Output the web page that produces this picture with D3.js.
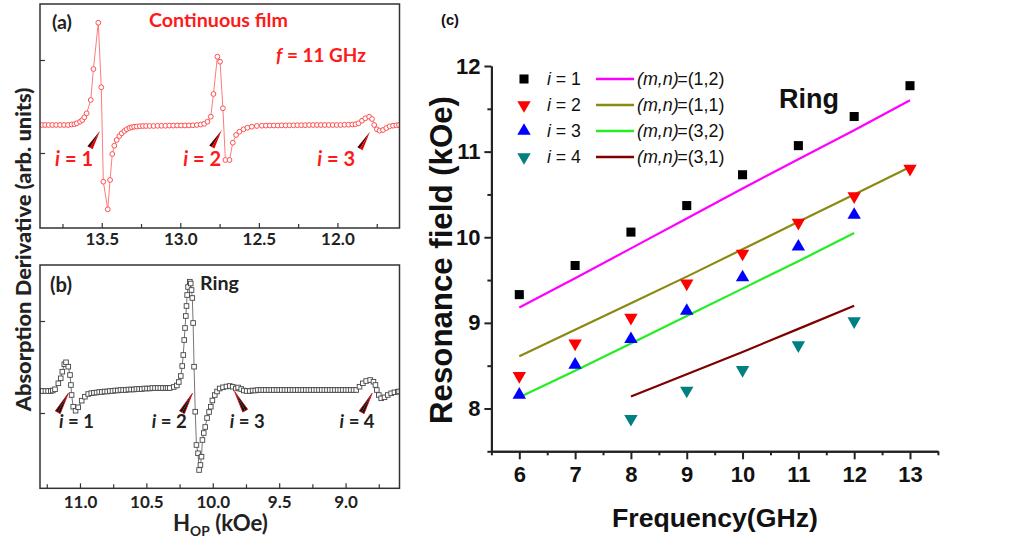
<!DOCTYPE html>
<html><head><meta charset="utf-8">
<script src="https://cdn.jsdelivr.net/npm/d3@7"></script>
<style>body{margin:0;background:#fff}svg{display:block}</style>
</head><body>
<svg id="chart" width="1024" height="541"></svg>
<script>
// ===== Panel (a): continuous film, f = 11 GHz  [field kOe, signal arb.]
const filmSpectrum = [
[13.880,0],[13.860,0],[13.838,0],[13.815,0],[13.790,0],[13.765,0],[13.740,0],[13.715,0],[13.692,0.05],[13.674,0.08],
[13.659,0.17],[13.638,0.33],[13.624,0.5],[13.611,0.77],[13.596,1.17],[13.570,2.5],[13.553,5.6],[13.522,10.23],[13.503,3.77],[13.490,-5.67],[13.462,-8.43],[13.447,-5.5],[13.433,-2.9],[13.420,-2.07],[13.405,-1.5],[13.388,-1.1],[13.373,-0.83],[13.356,-0.6],[13.341,-0.43],[13.324,-0.3],[13.309,-0.23],[13.294,-0.17],[13.277,-0.15],[13.258,-0.12],[13.238,-0.1],[13.218,-0.1],
[13.195,-0.1],[13.170,-0.1],[13.145,-0.08],[13.120,-0.08],[13.095,-0.08],[13.070,-0.06],[13.045,-0.06],[13.020,-0.05],[12.995,-0.05],[12.970,-0.05],[12.945,-0.04],[12.920,-0.03],[12.895,0],[12.870,0.05],[12.848,0.12],
[12.827,0.33],[12.806,0.83],[12.789,3.1],[12.764,6.83],[12.747,6.33],[12.729,1.67],[12.713,-3.5],[12.687,-3.5],[12.666,-1.77],[12.645,-1.0],[12.624,-0.67],[12.598,-0.43],[12.573,-0.27],[12.545,-0.17],[12.513,-0.1],[12.481,-0.07],
[12.455,-0.06],[12.430,-0.05],[12.405,-0.05],[12.380,-0.05],[12.355,-0.04],[12.330,-0.04],[12.305,-0.03],[12.280,-0.03],[12.255,-0.02],[12.230,-0.02],[12.205,-0.02],[12.180,0],[12.155,0],[12.130,0],[12.105,0],[12.080,0],[12.055,0],[12.030,0],[12.005,0],[11.980,0],[11.955,0.02],[11.930,0.03],[11.905,0.05],[11.885,0.08],
[11.866,0.17],[11.844,0.43],[11.823,0.67],[11.798,0.83],[11.780,0.6],[11.766,0],[11.749,-0.43],[11.732,-0.57],[11.710,-0.5],[11.689,-0.3],[11.668,-0.13],[11.646,-0.07],[11.625,-0.03],[11.608,0]
];
const filmTicks = [13.5, 13.0, 12.5, 12.0];
const filmMinorTicks = [13.75, 13.25, 12.75, 12.25, 11.75];
const filmModes = [ // i, arrow tip [field, signal], label start field
  {i:'1', tipH:13.511, tipV:-0.57, textH:13.797},
  {i:'2', tipH:12.736, tipV:-0.50, textH:12.982},
  {i:'3', tipH:11.793, tipV:-0.67, textH:12.129}
];

// ===== Panel (b): ring  [field kOe, signal arb.]
const ringSpectrum = [
[11.300,0],[11.280,0],[11.260,0],[11.240,0],[11.220,0],[11.205,0.05],
[11.188,0.17],[11.163,0.77],[11.145,1.27],[11.133,1.93],[11.118,2.67],[11.105,2.87],[11.088,2.43],[11.075,1.6],[11.068,0.6],[11.063,-0.4],[11.051,-1.57],[11.033,-1.97],[11.013,-1.63],[10.987,-0.97],[10.963,-0.57],[10.938,-0.3],[10.915,-0.22],[10.895,-0.18],[10.875,-0.15],
[10.855,-0.1],[10.835,-0.1],[10.815,-0.05],[10.795,-0.05],[10.775,0],[10.755,0],[10.735,0.05],[10.715,0.05],[10.695,0.1],[10.675,0.1],[10.655,0.1],[10.635,0.15],[10.615,0.15],[10.595,0.15],[10.575,0.2],[10.555,0.2],[10.535,0.2],[10.515,0.25],[10.495,0.25],[10.475,0.25],[10.455,0.3],[10.435,0.3],[10.415,0.3],[10.395,0.3],[10.375,0.3],[10.355,0.3],[10.340,0.3],
[10.324,0.3],[10.294,0.4],[10.271,0.55],[10.256,0.9],[10.241,1.5],[10.230,2.5],[10.222,3.6],[10.215,5.1],[10.209,6.3],[10.203,7.5],[10.198,8.5],[10.193,9.6],[10.186,10.4],[10.173,10.93],[10.166,10.75],[10.160,10.1],[10.154,9.3],[10.148,6.8],[10.141,2.43],[10.132,-2.07],[10.123,-5.4],[10.111,-6.23],[10.103,-7.9],[10.093,-7.4],[10.085,-6.57],[10.078,-4.9],[10.068,-4.2],[10.057,-3.6],[10.043,-2.7],[10.028,-2.1],[10.015,-1.57],[10.003,-0.95],[9.985,-0.4],[9.968,-0.05],[9.948,0.25],[9.923,0.37],[9.897,0.45],[9.872,0.5],[9.850,0.43],[9.827,0.25],[9.809,0.35],[9.786,0.2],[9.767,0.05],[9.745,0],[9.722,0],
[9.700,0.05],[9.680,0.05],[9.660,0.1],[9.640,0.1],[9.620,0.1],[9.600,0.1],[9.580,0.1],[9.560,0.1],[9.540,0.1],[9.520,0.1],[9.500,0.1],[9.480,0.1],[9.460,0.1],[9.440,0.1],[9.420,0.1],[9.400,0.1],[9.380,0.1],[9.360,0.1],[9.340,0.1],[9.320,0.1],[9.300,0.1],[9.280,0.1],[9.260,0.1],[9.240,0.1],[9.220,0.1],[9.200,0.1],[9.180,0.1],[9.160,0.1],[9.140,0.1],[9.120,0.1],[9.100,0.1],[9.080,0.1],[9.060,0.1],[9.040,0.1],[9.020,0.1],[9.000,0.1],[8.980,0.1],[8.960,0.1],[8.940,0.1],
[8.920,0.1],[8.895,0.43],[8.870,0.77],[8.845,1.0],[8.815,1.1],[8.790,0.93],[8.775,0.6],[8.765,0.1],[8.750,-0.4],[8.732,-0.73],[8.707,-0.63],[8.682,-0.4],[8.657,-0.23],[8.632,-0.13],[8.607,-0.07],[8.597,-0.05]
];
const ringTicks = [11.0, 10.5, 10.0, 9.5, 9.0];
const ringMinorTicks = [11.25, 10.75, 10.25, 9.75, 9.25, 8.75];
const ringModes = [
  {i:'1', tipH:11.088, tipV:-0.23, textH:11.158, dir:-1},
  {i:'2', tipH:10.153, tipV:-0.23, textH:10.459, dir:-1},
  {i:'3', tipH:9.835,  tipV:-0.07, textH:9.872,  dir:1},
  {i:'4', tipH:8.800,  tipV:-0.23, textH:9.045,  dir:-1}
];

// ===== Panel (c): resonance field vs frequency
const freq = [6, 7, 8, 9, 10, 11, 12, 13];
const mode1Field = [9.33, 9.67, 10.06, 10.37, 10.73, 11.07, 11.41, 11.77];
const mode2Field = [8.38, 8.76, 9.06, 9.46, 9.81, 10.17, 10.48, 10.80];
const mode3Freq = [6, 7, 8, 9, 10, 11, 12];
const mode3Field = [8.16, 8.51, 8.81, 9.14, 9.53, 9.89, 10.26];
const mode4Freq = [8, 9, 10, 11, 12];
const mode4Field = [7.88, 8.21, 8.45, 8.74, 9.02];
const fit12Freq = [6, 7, 8, 9, 10, 11, 12, 13];
const fit12Field = [9.18, 9.52, 9.87, 10.22, 10.57, 10.91, 11.25, 11.60];
const fit11Freq = [6, 7, 8, 9, 10, 11, 12, 13];
const fit11Field = [8.61, 8.92, 9.23, 9.54, 9.86, 10.18, 10.50, 10.82];
const fit32Freq = [6, 7, 8, 9, 10, 11, 12];
const fit32Field = [8.13, 8.44, 8.76, 9.08, 9.40, 9.72, 10.05];
const fit31Freq = [8, 9, 10, 11, 12];
const fit31Field = [8.14, 8.40, 8.66, 8.93, 9.20];
const freqTicks = [6, 7, 8, 9, 10, 11, 12, 13];
const freqMinor = [5.5, 6.5, 7.5, 8.5, 9.5, 10.5, 11.5, 12.5, 13.5];
const fieldTicks = [8, 9, 10, 11, 12];
const fieldMinor = [7.5, 8.5, 9.5, 10.5, 11.5];
const modeLabels = ['1', '2', '3', '4'];
const fitLabels = ['(1,2)', '(1,1)', '(3,2)', '(3,1)'];

function draw(){
const svg = d3.select('#chart');
const FAB = 'Lato, "Open Sans", sans-serif';
const FC = '"Liberation Sans", Arial, sans-serif';

function fit(sel, target){
  const len = sel.node().getComputedTextLength();
  const fs = parseFloat(sel.attr('font-size'));
  sel.attr('font-size', fs*target/len);
  return fs*target/len;
}
function wedge(g, tx, ty, dx, dy, w, fillA, fillB, stroke){
  const L = Math.hypot(dx, dy), px = -dy/L*w, py = dx/L*w;
  const bx = tx+dx, by = ty+dy;
  g.append('path').attr('d', `M${tx},${ty}L${bx+px},${by+py}L${bx},${by}Z`).attr('fill', fillA);
  g.append('path').attr('d', `M${tx},${ty}L${bx},${by}L${bx-px},${by-py}Z`).attr('fill', fillB);
  if(stroke) g.append('path').attr('d', `M${tx},${ty}L${bx+px},${by+py}L${bx-px},${by-py}Z`)
     .attr('fill','none').attr('stroke',stroke).attr('stroke-width',0.8);
}

// ---------- Panel (a)
const A = {l:40, r:399.5, t:4, b:228};
const xA = d3.scaleLinear().domain([13.893, 11.605]).range([A.l, A.r]);
const yA = d3.scaleLinear().domain([-10.3, 12.1]).range([A.b, A.t]);
const gA = svg.append('g');
svg.append('clipPath').attr('id','clipA').append('rect').attr('x',A.l).attr('y',A.t).attr('width',A.r-A.l).attr('height',A.b-A.t);
const pA = gA.append('g').attr('clip-path','url(#clipA)');
pA.append('path').datum(filmSpectrum)
  .attr('d', d3.line().x(d=>xA(d[0])).y(d=>yA(d[1])))
  .attr('fill','none').attr('stroke','#ff7b7b').attr('stroke-width',1);
pA.selectAll('circle').data(filmSpectrum).join('circle')
  .attr('cx', d=>xA(d[0])).attr('cy', d=>yA(d[1])).attr('r', 2.4)
  .attr('fill','#fff').attr('stroke','#ff5050').attr('stroke-width',1);
gA.append('rect').attr('x',A.l).attr('y',A.t).attr('width',A.r-A.l).attr('height',A.b-A.t)
  .attr('fill','none').attr('stroke','#333').attr('stroke-width',1.5);
const axA = gA.append('g').attr('transform',`translate(0,${A.b})`)
  .call(d3.axisBottom(xA).tickValues(filmTicks).tickFormat(d3.format('.1f')).tickSize(-5).tickPadding(5).tickSizeOuter(0));
const axAm = gA.append('g').attr('transform',`translate(0,${A.b})`)
  .call(d3.axisBottom(xA).tickValues(filmMinorTicks).tickFormat('').tickSize(-4).tickSizeOuter(0));
const ayA = gA.append('g').attr('transform',`translate(${A.l},0)`)
  .call(d3.axisLeft(yA).tickValues([-2.8, 6.5]).tickFormat('').tickSize(-5).tickSizeOuter(0));
[axA, axAm, ayA].forEach(a=>{a.select('.domain').remove(); a.selectAll('line').attr('stroke','#333').attr('stroke-width',1.2);});
axA.selectAll('text').attr('font-family',FAB).attr('font-weight','bold').attr('font-size',17).attr('fill','#222');

const tA = gA.append('text').attr('x',52).attr('y',29).attr('font-family',FAB).attr('font-weight','bold').attr('font-size',17).attr('fill','#222').text('(a)');
fit(tA, 20);
const tCF = gA.append('text').attr('x',149).attr('y',26.7).attr('font-family',FAB).attr('font-weight','bold').attr('font-size',17).attr('fill','#ff1a1a').text('Continuous film');
fit(tCF, 139);
const tF = gA.append('text').attr('x',276).attr('y',61.7).attr('font-family',FAB).attr('font-weight','bold').attr('font-size',17).attr('fill','#ff1a1a');
tF.append('tspan').attr('font-style','italic').text('f');
tF.append('tspan').text(' = 11 GHz');
fit(tF, 90);
let fsA = 19;
filmModes.forEach((m, k)=>{
  const tx = xA(m.tipH), ty = yA(m.tipV);
  wedge(gA, tx, ty, -10, 17, 3, '#4a0000', '#e00000');
  const t = gA.append('text').attr('x', xA(m.textH)).attr('y', 165.7).attr('font-family',FAB).attr('font-weight','bold').attr('font-size',fsA).attr('fill','#ff1a1a');
  t.append('tspan').attr('font-style','italic').text('i');
  t.append('tspan').text(' = ' + m.i);
  if(k===0) fsA = fit(t, 38); else t.attr('font-size', fsA);
});

// ---------- Panel (b)
const B = {l:40, r:399.5, t:265, b:488.3};
const xB = d3.scaleLinear().domain([11.301, 8.594]).range([B.l, B.r]);
const yB = d3.scaleLinear().domain([-9.73, 12.6]).range([B.b, B.t]);
const gB = svg.append('g');
svg.append('clipPath').attr('id','clipB').append('rect').attr('x',B.l).attr('y',B.t).attr('width',B.r-B.l).attr('height',B.b-B.t);
const pB = gB.append('g').attr('clip-path','url(#clipB)');
pB.append('path').datum(ringSpectrum)
  .attr('d', d3.line().x(d=>xB(d[0])).y(d=>yB(d[1])))
  .attr('fill','none').attr('stroke','#666').attr('stroke-width',0.9);
pB.selectAll('rect').data(ringSpectrum).join('rect')
  .attr('x', d=>xB(d[0])-2.3).attr('y', d=>yB(d[1])-2.3).attr('width',4.6).attr('height',4.6)
  .attr('fill','#fff').attr('stroke','#444').attr('stroke-width',0.9);
gB.append('rect').attr('x',B.l).attr('y',B.t).attr('width',B.r-B.l).attr('height',B.b-B.t)
  .attr('fill','none').attr('stroke','#333').attr('stroke-width',1.5);
const axB = gB.append('g').attr('transform',`translate(0,${B.b})`)
  .call(d3.axisBottom(xB).tickValues(ringTicks).tickFormat(d3.format('.1f')).tickSize(-5).tickPadding(8).tickSizeOuter(0));
const axBm = gB.append('g').attr('transform',`translate(0,${B.b})`)
  .call(d3.axisBottom(xB).tickValues(ringMinorTicks).tickFormat('').tickSize(-4).tickSizeOuter(0));
const ayB = gB.append('g').attr('transform',`translate(${B.l},0)`)
  .call(d3.axisLeft(yB).tickValues([-2.2, 7.0]).tickFormat('').tickSize(-5).tickSizeOuter(0));
[axB, axBm, ayB].forEach(a=>{a.select('.domain').remove(); a.selectAll('line').attr('stroke','#333').attr('stroke-width',1.2);});
axB.selectAll('text').attr('font-family',FAB).attr('font-weight','bold').attr('font-size',17).attr('fill','#222');

const tB = gB.append('text').attr('x',50).attr('y',291.7).attr('font-family',FAB).attr('font-weight','bold').attr('font-size',17).attr('fill','#222').text('(b)');
fit(tB, 22);
const tR = gB.append('text').attr('x',200).attr('y',290).attr('font-family',FAB).attr('font-weight','bold').attr('font-size',17).attr('fill','#222').text('Ring');
fit(tR, 39);
let fsB = 17;
ringModes.forEach((m, k)=>{
  const tx = xB(m.tipH), ty = yB(m.tipV);
  wedge(gB, tx, ty, m.dir*10.5, 19, 2.8, '#111', '#111', '#e00000');
  const t = gB.append('text').attr('x', xB(m.textH)).attr('y', 428).attr('font-family',FAB).attr('font-weight','bold').attr('font-size',fsB).attr('fill','#222');
  t.append('tspan').attr('font-style','italic').text('i');
  t.append('tspan').text(' = ' + m.i);
  if(k===0) fsB = fit(t, 35); else t.attr('font-size', fsB);
});
const hx = gB.append('text').attr('x',173).attr('y',531).attr('font-family',FAB).attr('font-weight','bold').attr('font-size',20).attr('fill','#222');
hx.append('tspan').text('H');
hx.append('tspan').attr('font-size','0.62em').attr('dy',5).text('OP');
hx.append('tspan').attr('dy',-5).text(' (kOe)');
fit(hx, 95);

// y label shared by (a) and (b): heavy, narrow letters -> keep size, compress along its length
const yAB = svg.append('text').attr('text-anchor','middle')
  .attr('font-family',FAB).attr('font-weight',900).attr('font-size',21).attr('fill','#222')
  .text('Absorption Derivative (arb. units)');
const lenAB = yAB.node().getComputedTextLength();
yAB.attr('transform',`translate(31,249.5) rotate(-90) scale(${324/lenAB},1)`);

// ---------- Panel (c)
const xC = d3.scaleLinear().domain([5.5, 13.5]).range([491.4, 937.9]);
const yC = d3.scaleLinear().domain([7.5, 12]).range([451.3, 66]);
const gC = svg.append('g');
const axC = gC.append('g').attr('transform',`translate(0,${yC(7.5)})`)
  .call(d3.axisBottom(xC).tickValues(freqTicks).tickFormat(d3.format('d')).tickSize(8).tickPadding(7).tickSizeOuter(0));
const axCm = gC.append('g').attr('transform',`translate(0,${yC(7.5)})`)
  .call(d3.axisBottom(xC).tickValues(freqMinor).tickFormat('').tickSize(4).tickSizeOuter(0));
const ayC = gC.append('g').attr('transform',`translate(${xC(5.5)},0)`)
  .call(d3.axisLeft(yC).tickValues(fieldTicks).tickFormat(d3.format('d')).tickSize(7).tickPadding(4).tickSizeOuter(0));
const ayCm = gC.append('g').attr('transform',`translate(${xC(5.5)},0)`)
  .call(d3.axisLeft(yC).tickValues(fieldMinor).tickFormat('').tickSize(4).tickSizeOuter(0));
[axC, axCm, ayC, ayCm].forEach(a=>{a.select('.domain').attr('stroke','#222').attr('stroke-width',2); a.selectAll('line').attr('stroke','#222').attr('stroke-width',2);});
[axC, ayC].forEach(a=>a.selectAll('text').attr('font-family',FC).attr('font-weight','bold').attr('font-size',22).attr('fill','#111'));

const line = d3.line().x(d=>xC(d[0])).y(d=>yC(d[1]));
const fits = [
  {f:fit12Freq, v:fit12Field, c:'#ff00ff'},
  {f:fit11Freq, v:fit11Field, c:'#8a8a10'},
  {f:fit32Freq, v:fit32Field, c:'#22ee22'},
  {f:fit31Freq, v:fit31Field, c:'#800000'}
];
fits.forEach(s=>{
  gC.append('path').datum(d3.zip(s.f, s.v)).attr('d', line)
    .attr('fill','none').attr('stroke', s.c).attr('stroke-width', 2.2);
});
const sq = d3.symbol().type(d3.symbolSquare).size(82);
const tri = d3.symbol().type(d3.symbolTriangle).size(78);
const series = [
  {f:freq, v:mode1Field, c:'#000', sym:sq, rot:0},
  {f:freq, v:mode2Field, c:'#ff0000', sym:tri, rot:180},
  {f:mode3Freq, v:mode3Field, c:'#0000ff', sym:tri, rot:0},
  {f:mode4Freq, v:mode4Field, c:'#008080', sym:tri, rot:180}
];
series.forEach(s=>{
  gC.append('g').selectAll('path').data(d3.zip(s.f, s.v)).join('path')
    .attr('d', s.sym()).attr('fill', s.c)
    .attr('transform', d=>`translate(${xC(d[0])},${yC(d[1])}) rotate(${s.rot})`);
});

// legend
const legY = [79, 105, 131, 157];
let fsL = 17, fsM = 17;
series.forEach((s, k)=>{
  const y = legY[k];
  gC.append('path').attr('d', s.sym()).attr('fill', s.c).attr('transform',`translate(524,${y}) rotate(${s.rot})`);
  const t = gC.append('text').attr('x',547).attr('y',y+6).attr('font-family',FC).attr('font-size',fsL).attr('fill','#111');
  t.append('tspan').attr('font-style','italic').text('i');
  t.append('tspan').text(' = ' + modeLabels[k]);
  if(k===0) fsL = fit(t, 34); else t.attr('font-size', fsL);
  gC.append('line').attr('x1',596).attr('x2',634).attr('y1',y).attr('y2',y).attr('stroke',fits[k].c).attr('stroke-width',2.4);
  const t2 = gC.append('text').attr('x',637).attr('y',y+6).attr('font-family',FC).attr('font-size',fsM).attr('fill','#111');
  t2.append('tspan').attr('font-style','italic').text('(m,n)');
  t2.append('tspan').attr('dx',-1.5).text('=' + fitLabels[k]);
  if(k===0) fsM = fit(t2, 89); else t2.attr('font-size', fsM);
});
const rC = gC.append('text').attr('x',779).attr('y',108).attr('font-family',FC).attr('font-weight','bold').attr('font-size',26).attr('fill','#111').text('Ring');
fit(rC, 60);
const cC = gC.append('text').attr('x',441).attr('y',25).attr('font-family',FC).attr('font-weight','bold').attr('font-size',15).attr('fill','#111').text('(c)');
fit(cC, 18);
const xl = gC.append('text').attr('x',715).attr('y',527).attr('text-anchor','middle').attr('font-family',FC).attr('font-weight','bold').attr('font-size',26).attr('fill','#111').text('Frequency(GHz)');
fit(xl, 206);
const yl = gC.append('text').attr('transform','translate(452,260) rotate(-90)').attr('text-anchor','middle').attr('font-family',FC).attr('font-weight','bold').attr('font-size',30).attr('fill','#111').text('Resonance field (kOe)');
fit(yl, 328);
}
(document.fonts && document.fonts.ready ? document.fonts.ready : Promise.resolve()).then(draw);
</script>
</body></html>
